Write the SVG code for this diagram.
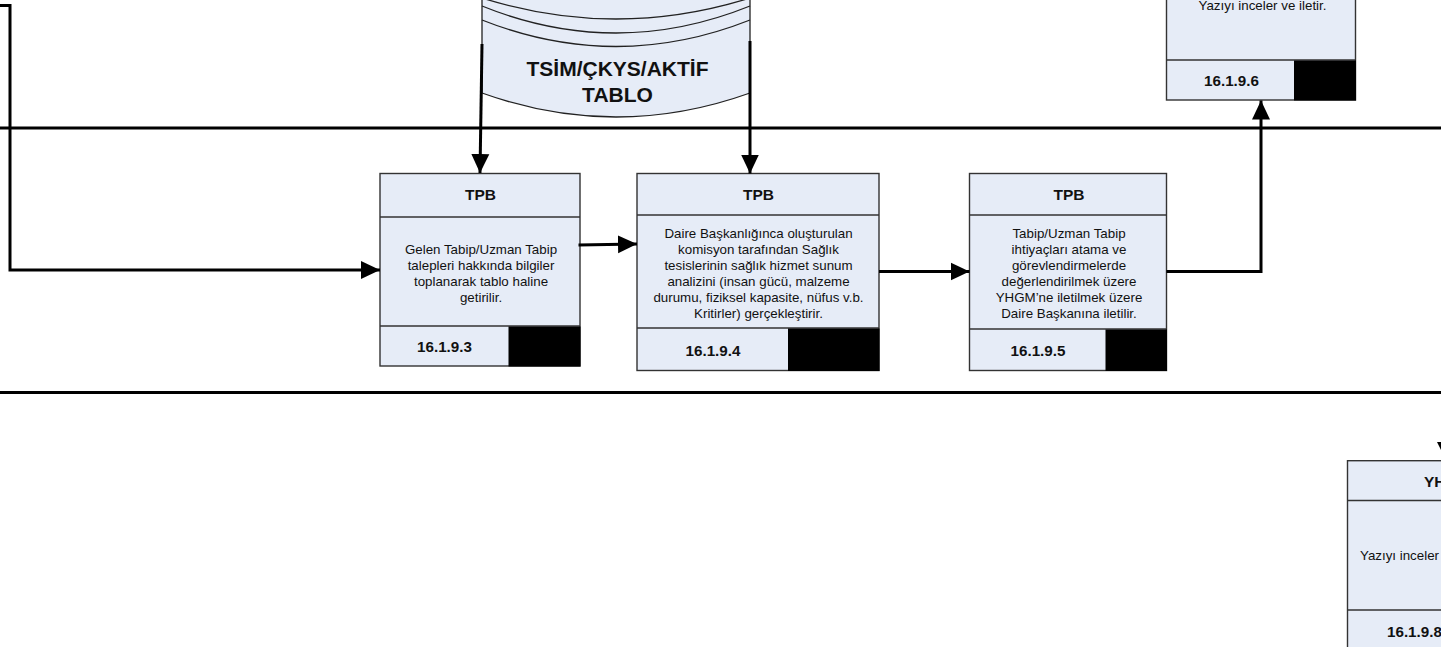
<svg xmlns="http://www.w3.org/2000/svg" width="1441" height="647" viewBox="0 0 1441 647">
<style>
text{font-family:"Liberation Sans",Arial,sans-serif;fill:#111;text-anchor:middle}
.b{font-size:13.33px}
.h{font-size:15.5px;font-weight:bold}
.n{font-size:15.2px;font-weight:bold}
.s{fill:#e6ecf7;stroke:#333;stroke-width:1.4}
.k{fill:#000}
.d{fill:none;stroke:#222;stroke-width:1.3}
.c{fill:none;stroke:#000;stroke-width:3}
.w{stroke:#000;stroke-width:3;fill:none}
.st{text-anchor:start}
</style>
<defs>
<marker id="a" markerUnits="userSpaceOnUse" markerWidth="20" markerHeight="20" refX="19" refY="9.5" orient="auto"><path d="M0 0.5L19 9.5L0 18.5Z" fill="#000"/></marker>
</defs>
<g id="swimlanes">
<line class="w" x1="0" y1="128" x2="1441" y2="128"/>
<line class="w" x1="0" y1="392.5" x2="1441" y2="392.5"/>
</g>
<g id="db">
<path d="M482 -20V93Q616 141 750 93V-20Z" fill="#e6ecf7" stroke="none"/>
<path class="d" d="M482 -20V93Q616 141 750 93V-20"/>
<path class="d" d="M482 -2Q616 40 750 -2"/>
<path class="d" d="M482 6Q616 60 750 6"/>
<path class="d" d="M482 20Q616 73 750 20"/>
<text x="617.500" y="76" font-size="21" font-weight="bold">TSİM/ÇKYS/AKTİF</text>
<text x="617.500" y="102" font-size="21" font-weight="bold">TABLO</text>
</g>
<g id="n1">
<rect class="s" x="380" y="173.5" width="200" height="192.5"/>
<line class="s" x1="380" y1="217" x2="580" y2="217"/>
<line class="s" x1="380" y1="326" x2="580" y2="326"/>
<rect class="k" x="508.5" y="326.5" width="72" height="40"/>
<text class="h" x="480.500" y="200">TPB</text>
<text class="b" x="481" y="253.500">Gelen Tabip/Uzman Tabip</text>
<text class="b" x="481" y="269.500">talepleri hakkında bilgiler</text>
<text class="b" x="481" y="285.500">toplanarak tablo haline</text>
<text class="b" x="481" y="301.500">getirilir.</text>
<text class="n" x="444.500" y="352">16.1.9.3</text>
</g>
<g id="n2">
<rect class="s" x="637" y="173.500" width="242" height="197"/>
<line class="s" x1="637" y1="215" x2="879" y2="215"/>
<line class="s" x1="637" y1="328" x2="879" y2="328"/>
<rect class="k" x="788" y="328.500" width="91.500" height="42.500"/>
<text class="h" x="758.500" y="200">TPB</text>
<text class="b" x="758.500" y="238">Daire Başkanlığınca oluşturulan</text>
<text class="b" x="758.500" y="254">komisyon tarafından Sağlık</text>
<text class="b" x="758.500" y="270">tesislerinin sağlık hizmet sunum</text>
<text class="b" x="758.500" y="286">analizini (insan gücü, malzeme</text>
<text class="b" x="758.500" y="302">durumu, fiziksel kapasite, nüfus v.b.</text>
<text class="b" x="758.500" y="318">Kritirler)  gerçekleştirir.</text>
<text class="n" x="713" y="356">16.1.9.4</text>
</g>
<g id="n3">
<rect class="s" x="969.500" y="173.500" width="197" height="197"/>
<line class="s" x1="969.500" y1="215" x2="1166.500" y2="215"/>
<line class="s" x1="969.500" y1="329" x2="1166.500" y2="329"/>
<rect class="k" x="1105.500" y="329.500" width="61.500" height="41.500"/>
<text class="h" x="1069" y="200">TPB</text>
<text class="b" x="1069" y="238">Tabip/Uzman Tabip</text>
<text class="b" x="1069" y="254">ihtiyaçları atama ve</text>
<text class="b" x="1069" y="270">görevlendirmelerde</text>
<text class="b" x="1069" y="286">değerlendirilmek üzere</text>
<text class="b" x="1069" y="302">YHGM’ne iletilmek üzere</text>
<text class="b" x="1069" y="318">Daire Başkanına iletilir.</text>
<text class="n" x="1038" y="356">16.1.9.5</text>
</g>
<g id="n4">
<rect class="s" x="1166.500" y="-20" width="189" height="120"/>
<line class="s" x1="1166.500" y1="60" x2="1355.500" y2="60"/>
<rect class="k" x="1294" y="60.500" width="62" height="40"/>
<text class="b" x="1262.500" y="10">Yazıyı inceler ve iletir.</text>
<text class="n" x="1231.500" y="86">16.1.9.6</text>
</g>
<g id="n5">
<rect class="s" x="1347.500" y="460.700" width="120" height="210"/>
<line class="s" x1="1347.500" y1="500.500" x2="1441" y2="500.500"/>
<line class="s" x1="1347.500" y1="610" x2="1441" y2="610"/>
<text class="h st" x="1424" y="487">YH</text>
<text class="b st" x="1360" y="560">Yazıyı inceler</text>
<text class="n st" x="1387" y="636.500">16.1.9.8</text>
<path d="M1437 442L1455 442L1446 460Z" fill="#000"/>
</g>
<g id="connectors">
<path class="c" d="M0 5.500H10V270H380" marker-end="url(#a)"/>
<path class="c" d="M482 44L480 173" marker-end="url(#a)"/>
<path class="c" d="M750 41V173.500" marker-end="url(#a)"/>
<path class="c" d="M578.500 245L637 244" marker-end="url(#a)"/>
<path class="c" d="M879 271.500H969.500" marker-end="url(#a)"/>
<path class="c" d="M1166.500 271.500H1261V100.500" marker-end="url(#a)"/>
</g>
</svg>
